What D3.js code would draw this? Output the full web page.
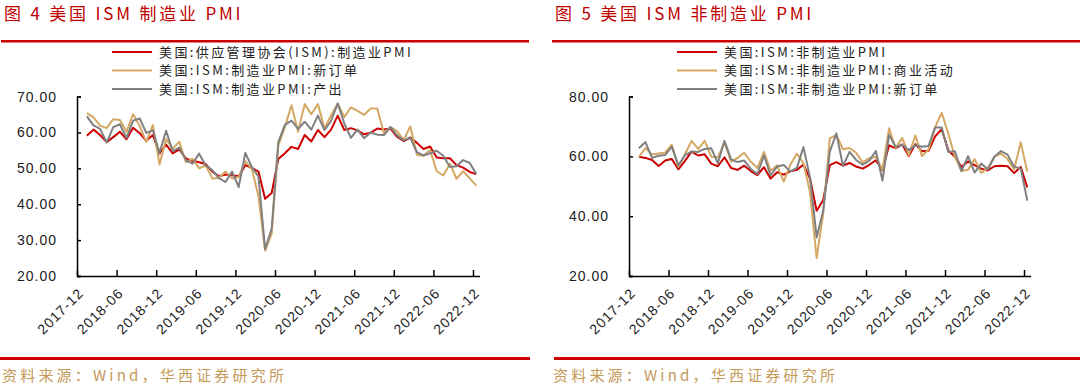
<!DOCTYPE html>
<html>
<head>
  <meta charset="utf-8">
  <script src="https://d3js.org/d3.v7.min.js"></script>
  <style>
    body { margin: 0; background: #fff; }
    text { font-family: "Noto Sans CJK SC", sans-serif; }
    text.title { font-size: 17px; fill: #c00000; letter-spacing: 2.8px; }
    text.legend { font-size: 13px; fill: #222; letter-spacing: 2.4px; }
    text.source { font-size: 15px; fill: #c49a58; letter-spacing: 3.2px; }
    .axis text { font-family: "Liberation Sans", Arial, sans-serif; font-size: 14px; fill: #222; letter-spacing: 1px; }
    .axis path, .axis line { stroke: #000; stroke-width: 1.5px; }
    path.series { fill: none; stroke-width: 2px; stroke-linejoin: round; }
  </style>
</head>
<body>
  <script>
    var width = 1080, height = 387;

    // x-axis tick labels (every 6 months), points are monthly 2018-01 .. 2022-12
    const tickLabels = ["2017-12", "2018-06", "2018-12", "2019-06", "2019-12", "2020-06",
                        "2020-12", "2021-06", "2021-12", "2022-06", "2022-12"];

    // 图4 series
    const mfgPMI = [59.1, 60.8, 59.3, 57.3, 58.7, 60.2, 58.1, 61.3, 59.8, 57.7, 59.3, 54.1,
                    56.6, 54.2, 55.3, 52.8, 52.1, 51.7, 51.2, 49.1, 47.8, 48.3, 48.1, 47.8,
                    50.9, 50.1, 49.1, 41.5, 43.1, 52.6, 54.2, 56.0, 55.4, 59.3, 57.5, 60.7,
                    58.7, 60.8, 64.7, 60.7, 61.2, 60.6, 59.5, 59.9, 61.1, 60.8, 61.1, 58.8,
                    57.6, 58.6, 57.1, 55.4, 56.1, 53.0, 52.8, 52.8, 50.9, 50.2, 49.0, 48.4];
    const mfgNewOrders = [65.4, 64.2, 61.9, 61.2, 63.7, 63.5, 60.2, 65.1, 61.8, 57.4, 62.1, 51.1,
                          58.2, 55.5, 57.4, 51.7, 52.7, 50.0, 50.8, 47.2, 47.3, 49.1, 47.2, 47.6,
                          52.0, 49.8, 42.2, 27.1, 31.8, 56.4, 61.5, 67.6, 60.2, 67.9, 65.1, 67.9,
                          61.1, 64.8, 68.0, 64.3, 67.0, 66.0, 64.9, 66.7, 66.7, 59.8, 61.5, 60.4,
                          57.9, 61.7, 53.8, 53.5, 55.1, 49.2, 48.0, 51.3, 47.1, 49.2, 47.2, 45.2];
    const mfgOutput = [64.5, 62.0, 61.0, 57.2, 61.5, 62.3, 58.5, 63.3, 63.9, 59.9, 60.6, 54.3,
                       60.5, 54.8, 55.8, 52.3, 51.3, 54.1, 50.8, 49.5, 47.3, 46.2, 49.1, 44.8,
                       54.3, 50.3, 47.7, 27.5, 33.2, 57.3, 62.1, 63.3, 61.0, 63.0, 60.8, 64.7,
                       60.7, 63.2, 68.1, 62.5, 58.5, 60.8, 58.4, 60.0, 59.4, 59.3, 61.5, 59.2,
                       57.8, 58.5, 54.5, 53.6, 54.2, 54.9, 53.5, 50.4, 50.6, 52.3, 51.5, 48.5];

    // 图5 series
    const nonMfgPMI = [59.9, 59.5, 58.8, 56.8, 58.6, 59.1, 55.7, 58.5, 61.6, 60.3, 60.7, 57.6,
                       56.7, 59.7, 56.1, 55.5, 56.9, 55.1, 53.7, 56.4, 52.6, 54.7, 53.9, 55.0,
                       55.5, 57.3, 52.5, 41.8, 45.4, 57.1, 58.1, 56.9, 57.8, 56.6, 55.9, 57.2,
                       58.7, 55.3, 63.7, 62.7, 64.0, 60.1, 64.1, 61.7, 61.9, 66.7, 69.1, 62.0,
                       59.9, 56.5, 58.3, 57.1, 55.9, 55.3, 56.7, 56.9, 56.7, 54.4, 56.5, 49.6];
    const nonMfgBusiness = [59.8, 62.8, 60.6, 61.0, 61.3, 63.9, 56.5, 60.7, 65.2, 62.5, 65.2, 59.9,
                            59.7, 64.7, 58.2, 59.5, 61.2, 58.2, 56.1, 61.5, 55.2, 57.0, 51.6, 57.2,
                            60.9, 57.8, 48.0, 26.0, 41.0, 66.0, 67.2, 62.4, 62.8, 61.2, 58.0, 59.4,
                            59.9, 55.5, 69.4, 62.7, 66.2, 60.4, 67.0, 60.1, 62.3, 69.8, 74.6, 67.6,
                            59.9, 55.1, 55.5, 59.1, 54.5, 56.1, 59.9, 60.9, 59.1, 55.7, 64.7, 54.9];
    const nonMfgNewOrders = [62.7, 64.8, 59.5, 60.2, 60.5, 63.2, 57.0, 60.4, 61.6, 61.5, 62.5, 62.7,
                             57.7, 65.2, 59.0, 58.1, 58.6, 55.8, 54.1, 60.3, 53.7, 56.6, 57.1, 55.0,
                             56.2, 63.1, 52.9, 32.9, 41.9, 61.6, 67.7, 56.8, 61.5, 58.8, 57.2, 58.6,
                             61.8, 51.9, 67.2, 63.2, 63.9, 62.1, 63.7, 63.2, 63.5, 69.7, 69.7, 61.5,
                             61.7, 55.1, 60.1, 54.6, 57.6, 55.6, 59.9, 61.8, 60.6, 56.5, 56.0, 45.2];

    const colors = ["#cc0000", "#d4a862", "#808080"];

    const panels = [
      {
        title: "图 4 美国 ISM 制造业 PMI",
        names: ["美国:供应管理协会(ISM):制造业PMI", "美国:ISM:制造业PMI:新订单", "美国:ISM:制造业PMI:产出"],
        series: [mfgPMI, mfgNewOrders, mfgOutput],
        yTicks: [20, 30, 40, 50, 60, 70],
        left: 0, axisX: 77, axisEnd: 479.6, legendX: 112
      },
      {
        title: "图 5 美国 ISM 非制造业 PMI",
        names: ["美国:ISM:非制造业PMI", "美国:ISM:非制造业PMI:商业活动", "美国:ISM:非制造业PMI:新订单"],
        series: [nonMfgPMI, nonMfgBusiness, nonMfgNewOrders],
        yTicks: [20, 40, 60, 80],
        left: 551, axisX: 629, axisEnd: 1030.6, legendX: 677
      }
    ];

    var svg = d3.select("body").append("svg")
      .attr("width", width)
      .attr("height", height);

    const plotTop = 96.6, plotBottom = 276;

    panels.forEach(p => {
      let g = svg.append("g");

      g.append("text")
        .attr("class", "title")
        .attr("x", p.left + 4)
        .attr("y", 20)
        .text(p.title);

      g.append("rect")
        .attr("x", p.left + 1)
        .attr("y", 40)
        .attr("width", 528)
        .attr("height", 2.5)
        .style("fill", "#cc0000");

      g.append("rect")
        .attr("x", p.left === 0 ? 0 : p.left + 3)
        .attr("y", 357)
        .attr("width", p.left === 0 ? 530 : 526)
        .attr("height", 3)
        .style("fill", "#cc0000");

      g.append("text")
        .attr("class", "source")
        .attr("x", p.left + 2)
        .attr("y", 381)
        .text("资料来源：Wind，华西证券研究所");

      let x = d3.scaleLinear()
        .domain([0, 61])
        .range([p.axisX, p.axisEnd]);

      let y = d3.scaleLinear()
        .domain(d3.extent(p.yTicks))
        .range([plotBottom, plotTop]);

      let yAxis = d3.axisLeft(y)
        .tickValues(p.yTicks)
        .tickSize(-4)
        .tickSizeOuter(-4)
        .tickPadding(20)
        .tickFormat(d3.format(".2f"));

      g.append("g")
        .attr("class", "axis yAxis")
        .attr("transform", `translate(${p.axisX}, 0)`)
        .call(yAxis);

      let xAxis = d3.axisBottom(x)
        .tickValues(d3.range(0, 61, 6))
        .tickSize(-6)
        .tickSizeOuter(0)
        .tickFormat((d, i) => tickLabels[i]);

      let xg = g.append("g")
        .attr("class", "axis xAxis")
        .attr("transform", `translate(0, ${plotBottom})`)
        .call(xAxis);

      xg.selectAll(".tick text")
        .attr("y", 0)
        .attr("dy", 0)
        .attr("transform", "translate(7, 18) rotate(-45)")
        .style("text-anchor", "end");

      let line = d3.line()
        .x((d, i) => x(i + 1.5))
        .y(d => y(d));

      p.series.forEach((s, k) => {
        g.append("path")
          .attr("class", "series")
          .attr("d", line(s))
          .style("stroke", colors[k]);
      });

      p.names.forEach((name, k) => {
        let ly = 52 + k * 18.5;
        g.append("line")
          .attr("x1", p.legendX)
          .attr("x2", p.legendX + 40)
          .attr("y1", ly)
          .attr("y2", ly)
          .style("stroke", colors[k])
          .style("stroke-width", 2);
        g.append("text")
          .attr("class", "legend")
          .attr("x", p.legendX + 47)
          .attr("y", ly + 4.5)
          .text(name);
      });
    });
  </script>
</body>
</html>
